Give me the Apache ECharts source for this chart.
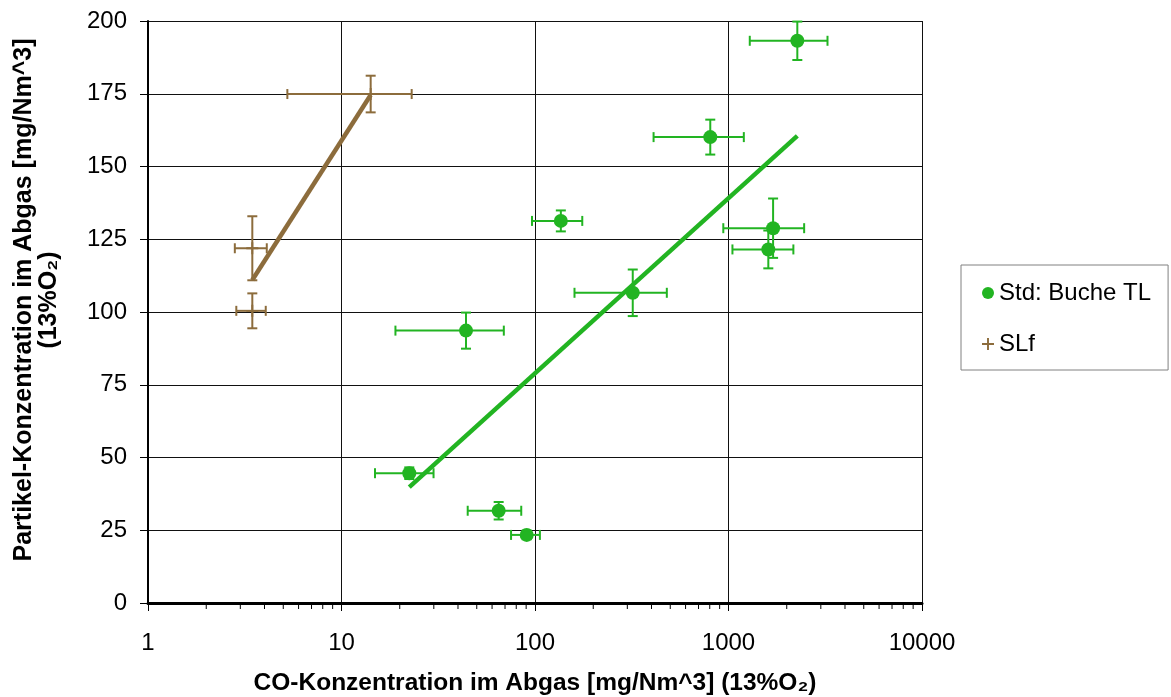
<!DOCTYPE html>
<html>
<head>
<meta charset="utf-8">
<script src="https://cdn.jsdelivr.net/npm/echarts@6/dist/echarts.min.js"></script>
<style>
  html, body { margin: 0; padding: 0; background: #fff; }
  #chart { width: 1171px; height: 697px; }
</style>
</head>
<body>
<div id="chart"></div>
<script>
// Std: Buche TL
const stdCO = [22.4, 44, 64.9, 90.6, 136, 320, 805, 1700, 1606, 2268]
const stdCOErr = [7.5, 25, 20, 15.4, 39.5, 160, 395, 760, 558, 980]
const stdPM = [44.6, 93.6, 31.7, 23.4, 131.3, 106.6, 160.1, 128.8, 121.5, 193.2]
const stdPMErr = [2, 6.2, 3, 1.5, 3.6, 8, 6, 10.2, 6.5, 6.6]
// SLf
const slfCO = [3.46, 3.46, 14.15]
const slfCOErr = [0.65, 0.6, 8.9]
const slfPM = [121.9, 100.4, 174.9]
const slfPMErr = [11, 6, 6.3]
// trend lines (end points)
const stdTrendCO = [22.4, 2268]
const stdTrendPM = [39.8, 160.5]
const slfTrendCO = [3.46, 14.15]
const slfTrendPM = [111, 174.6]
// log axis minor ticks
const minorTicks = [2, 3, 4, 5, 6, 7, 8, 9, 20, 30, 40, 50, 60, 70, 80, 90,
  200, 300, 400, 500, 600, 700, 800, 900, 2000, 3000, 4000, 5000, 6000, 7000, 8000, 9000]

const green = '#22b422'
const brown = '#8c6c3c'
const font = '"Liberation Sans", Arial, sans-serif'
const plus = 'path://M4.2,0h1.6v10h-1.6zM0,4.2h10v1.6h-10z'

const zip = (a, b) => a.map((v, i) => [v, b[i]])
const zip4 = (a, b, c, d) => a.map((v, i) => [v, b[i], c[i], d[i]])

const errorBars = function (params, api) {
  const x = api.value(0), y = api.value(1), ex = api.value(2), ey = api.value(3)
  const l = api.coord([x - ex, y]), r = api.coord([x + ex, y])
  const t = api.coord([x, y + ey]), b = api.coord([x, y - ey])
  const c = 5
  const style = {stroke: api.visual('color'), lineWidth: 2}
  const seg = (x1, y1, x2, y2) => ({type: 'line', shape: {x1, y1, x2, y2}, style})
  return {
    type: 'group',
    children: [
      seg(l[0], l[1], r[0], r[1]),
      seg(l[0], l[1] - c, l[0], l[1] + c),
      seg(r[0], r[1] - c, r[0], r[1] + c),
      seg(t[0], t[1], b[0], b[1]),
      seg(t[0] - c, t[1], t[0] + c, t[1]),
      seg(b[0] - c, b[1], b[0] + c, b[1])
    ]
  }
}

const chart = echarts.init(document.getElementById('chart'))
const option = {
  animation: false,
  backgroundColor: '#fff',
  grid: {left: 148, right: 249, top: 21, bottom: 94, outerBoundsMode: 'none'},
  legend: {
    data: [
      {name: 'Std: Buche TL', icon: 'circle', itemStyle: {color: green}},
      {name: 'SLf', icon: plus, itemStyle: {color: brown}}
    ],
    orient: 'vertical',
    left: 961,
    top: 265,
    padding: [16, 17, 14, 21],
    itemGap: 27,
    itemWidth: 12,
    itemHeight: 12,
    borderColor: '#808080',
    borderWidth: 1,
    textStyle: {fontSize: 24, color: '#000', fontFamily: font}
  },
  xAxis: {
    type: 'log',
    logBase: 10,
    min: 1,
    max: 10000,
    name: 'CO-Konzentration im Abgas [mg/Nm^3] (13%O₂)',
    nameLocation: 'middle',
    nameGap: 68,
    nameTextStyle: {fontSize: 24.5, fontWeight: 'bold', color: '#000', fontFamily: font},
    axisLine: {onZero: false, lineStyle: {color: '#000', width: 3}},
    axisTick: {length: 8, lineStyle: {color: '#000', width: 1}},
    axisLabel: {fontSize: 24, color: '#000', margin: 28, fontFamily: font,
      formatter: v => String(v)},
    splitLine: {show: true, lineStyle: {color: '#111', width: 1}}
  },
  yAxis: {
    type: 'value',
    min: 0,
    max: 200,
    interval: 25,
    name: 'Partikel-Konzentration im Abgas [mg/Nm^3]\n(13%O₂)',
    nameLocation: 'middle',
    nameGap: 86,
    nameTextStyle: {fontSize: 25, fontWeight: 'bold', color: '#000', lineHeight: 25,
      fontFamily: font, padding: [0, 0, 0, 24]},
    axisLine: {show: true, lineStyle: {color: '#000', width: 2}},
    axisTick: {show: true, length: 8, lineStyle: {color: '#000', width: 1}},
    axisLabel: {fontSize: 24, color: '#000', margin: 21, fontFamily: font},
    splitLine: {show: true, lineStyle: {color: '#111', width: 1}}
  },
  series: [
    {
      name: 'minor ticks',
      type: 'custom',
      silent: true,
      clip: false,
      data: minorTicks.map(v => [v, 0]),
      encode: {x: 0, y: 1},
      renderItem: function (params, api) {
        const p = api.coord([api.value(0), 0])
        return {type: 'line', shape: {x1: p[0], y1: p[1], x2: p[0], y2: p[1] + 6},
          style: {stroke: '#000', lineWidth: 1}}
      }
    },
    {
      name: 'Std: Buche TL',
      type: 'custom',
      silent: true,
      itemStyle: {color: green},
      data: zip4(stdCO, stdPM, stdCOErr, stdPMErr),
      encode: {x: 0, y: 1},
      renderItem: errorBars,
      z: 2
    },
    {
      name: 'SLf',
      type: 'custom',
      silent: true,
      itemStyle: {color: brown},
      data: zip4(slfCO, slfPM, slfCOErr, slfPMErr),
      encode: {x: 0, y: 1},
      renderItem: errorBars,
      z: 2
    },
    {
      name: 'Std: Buche TL',
      type: 'scatter',
      symbol: 'circle',
      symbolSize: 14,
      itemStyle: {color: green, opacity: 1},
      data: zip(stdCO, stdPM),
      z: 3
    },
    {
      name: 'SLf',
      type: 'scatter',
      symbol: plus,
      symbolSize: 12,
      itemStyle: {color: brown, opacity: 1},
      data: zip(slfCO, slfPM),
      z: 3
    },
    {
      name: 'std trend',
      type: 'line',
      showSymbol: false,
      silent: true,
      data: zip(stdTrendCO, stdTrendPM),
      lineStyle: {color: green, width: 4.5},
      z: 4
    },
    {
      name: 'slf trend',
      type: 'line',
      showSymbol: false,
      silent: true,
      data: zip(slfTrendCO, slfTrendPM),
      lineStyle: {color: brown, width: 4.5},
      z: 4
    }
  ]
}
chart.setOption(option)
</script>
</body>
</html>
